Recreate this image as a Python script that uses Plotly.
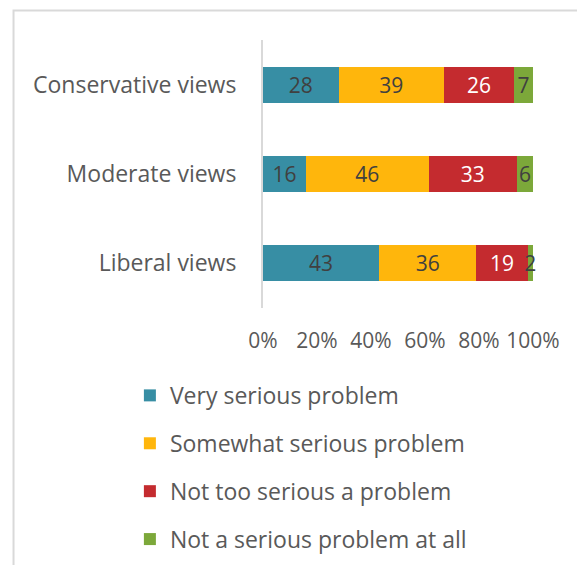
import plotly.graph_objects as go

categories = ["Conservative views", "Moderate views", "Liberal views"]
series_names = ["Very serious problem", "Somewhat serious problem",
                "Not too serious a problem", "Not a serious problem at all"]
very_serious = [28, 16, 43]
somewhat_serious = [39, 46, 36]
not_too_serious = [26, 33, 19]
not_serious_at_all = [7, 6, 2]
x_tick_vals = [0, 20, 40, 60, 80, 100]
x_tick_text = ["0%", "20%", "40%", "60%", "80%", "100%"]

series_values = [very_serious, somewhat_serious, not_too_serious, not_serious_at_all]
colors = ["#378EA4", "#FFB60C", "#C42B2F", "#7CA83A"]
text_colors = ["#404040", "#404040", "#FFFFFF", "#404040"]

FONT = "Open Sans"
fig = go.Figure()
for i, (name, vals) in enumerate(zip(series_names, series_values)):
    fig.add_trace(go.Bar(
        y=categories, x=vals, name=name, orientation="h",
        marker=dict(color=colors[i], line=dict(width=0)),
        text=[str(v) for v in vals], textposition="inside",
        insidetextanchor="middle", textangle=0, constraintext="none",
        textfont=dict(family=FONT, size=21, color=text_colors[i]),
        legendgroup=name, hoverinfo="skip", cliponaxis=False,
    ))

fig.update_layout(
    width=585, height=565,
    barmode="stack", barnorm="percent", bargap=0.6,
    paper_bgcolor="white", plot_bgcolor="white",
    margin=dict(l=255, r=60, t=32, b=265),
    font=dict(family=FONT, color="#595959"),
    showlegend=True,
    legend=dict(
        x=-0.493, y=-0.246, xanchor="left", yanchor="top",
        traceorder="grouped", tracegroupgap=15,
        font=dict(family=FONT, size=23, color="#595959"),
        bgcolor="rgba(0,0,0,0)",
    ),
    xaxis=dict(
        range=[0, 100], tickvals=x_tick_vals, ticktext=x_tick_text,
        showgrid=False, zeroline=False, showline=False, ticks="",
        tickfont=dict(family=FONT, size=21, color="#595959"),
        ticklabelstandoff=18, fixedrange=True,
    ),
    yaxis=dict(
        autorange="reversed", showgrid=False, zeroline=False,
        showline=True, linecolor="#D9D9D9", linewidth=2, ticks="",
        tickfont=dict(family=FONT, size=23, color="#595959"),
        ticklabelstandoff=20, fixedrange=True,
    ),
    shapes=[dict(type="rect", xref="paper", yref="paper",
                 x0=-0.924, x1=1.3, y0=-1.2, y1=1.110,
                 line=dict(color="#D9D9D9", width=2), fillcolor="rgba(0,0,0,0)",
                 layer="below")],
)

fig.write_html("out.html")
